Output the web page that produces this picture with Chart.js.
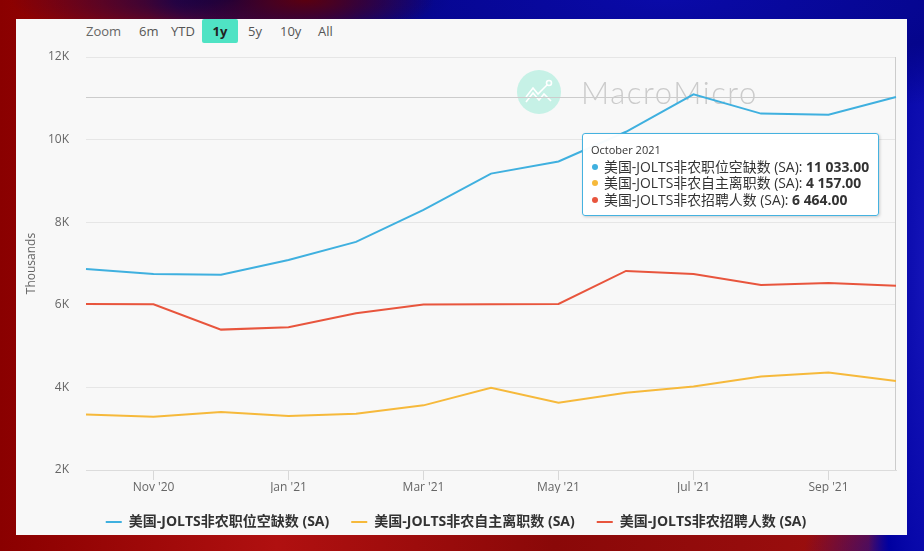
<!DOCTYPE html>
<html>
<head>
<meta charset="utf-8">
<script src="https://cdn.jsdelivr.net/npm/chart.js@4/dist/chart.umd.min.js"></script>
<style>
  body {
    margin: 0;
    width: 924px;
    height: 551px;
    overflow: hidden;
    position: relative;
    font-family: "Open Sans", "Noto Sans CJK SC", sans-serif;
    background:
      radial-gradient(ellipse 130px 40px at 33% 0%, #5a0010 0%, transparent 100%),
      radial-gradient(ellipse 220px 45px at 25% 0%, #000050 0%, transparent 100%),
      radial-gradient(ellipse 520px 120px at 72% 0%, #0a0aa8 0%, #05058c 60%, transparent 100%),
      radial-gradient(ellipse 60px 700px at 100% 50%, #1414b8 0%, #0000a0 70%, transparent 100%),
      radial-gradient(ellipse 120px 60px at 100% 100%, #0a0aa0 0%, transparent 100%),
      linear-gradient(to right, #8a0000, #b01010 30%, #8a0808 60%, #a01010);
  }
  #panel {
    position: absolute; left: 16px; top: 19px; width: 891px; height: 516px;
    background: #f8f8f8;
  }
  #wrap { position: absolute; left: 16px; top: 19px; width: 891px; height: 520px; }
  .rs { position: absolute; font-size: 13px; color: #555; line-height: 24px; top: 19px; }
  .rs.label { color: #666; }
  .rs.on {
    background: #4fe3c4; color: #222; font-weight: bold; border-radius: 2px;
    width: 36px; text-align: center;
  }
  #tip {
    position: absolute; background: rgba(255,255,255,0.96);
    border: 1px solid #45b2e0; border-radius: 3px;
    box-shadow: 1px 1px 3px rgba(0,0,0,0.18);
    padding: 8px 9px 7px 8px; white-space: nowrap; color: #333;
    font-family: "Open Sans", "Noto Sans CJK SC", sans-serif;
    pointer-events: none;
  }
  #tip .tt { font-size: 11px; line-height: 16px; margin-bottom: 1px; }
  #tip .row { font-size: 13.9px; line-height: 16.5px; }
  #tip .dot { display: inline-block; width: 6px; height: 6px; border-radius: 50%; margin: 0 6px 0 1px; vertical-align: 2px; }
</style>
</head>
<body>
<div id="panel"></div>
<span class="rs label" style="left:86px">Zoom</span>
<span class="rs" style="left:139px">6m</span>
<span class="rs" style="left:171px">YTD</span>
<span class="rs on" style="left:202px">1y</span>
<span class="rs" style="left:248px">5y</span>
<span class="rs" style="left:280px">10y</span>
<span class="rs" style="left:318px">All</span>
<div id="wrap">
  <canvas id="chart" width="891" height="520"></canvas>
  <div id="tip" style="opacity:0"></div>
</div>
<script>
const months = ['2020-10', '2020-11', '2020-12', '2021-01', '2021-02', '2021-03', '2021-04',
  '2021-05', '2021-06', '2021-07', '2021-08', '2021-09', '2021-10'];
const openings = [6866, 6745, 6730, 7085, 7523, 8300, 9177, 9470, 10190, 11098, 10629, 10602, 11033];
const quits = [3345, 3290, 3404, 3306, 3362, 3565, 3988, 3630, 3873, 4020, 4263, 4360, 4157];
const hires = [6022, 6012, 5399, 5455, 5796, 6007, 6015, 6020, 6820, 6745, 6477, 6525, 6464];
const seriesNames = ['美国-JOLTS非农职位空缺数 (SA)', '美国-JOLTS非农自主离职数 (SA)', '美国-JOLTS非农招聘人数 (SA)'];
const colors = ['#3fb0df', '#f6b93b', '#e8553d'];
const yTicks = [2000, 4000, 6000, 8000, 10000, 12000];

const shortMonths = ['Jan', 'Feb', 'Mar', 'Apr', 'May', 'Jun', 'Jul', 'Aug', 'Sep', 'Oct', 'Nov', 'Dec'];
const longMonths = ['January', 'February', 'March', 'April', 'May', 'June', 'July', 'August',
  'September', 'October', 'November', 'December'];
const font = '"Open Sans", "Noto Sans CJK SC", sans-serif';

function shortLabel(m) {
  const [y, mo] = m.split('-');
  return shortMonths[+mo - 1] + " '" + y.slice(2);
}
function longLabel(m) {
  const [y, mo] = m.split('-');
  return longMonths[+mo - 1] + ' ' + y;
}
function fmt(v) {
  const [i, d] = v.toFixed(2).split('.');
  return i.replace(/\B(?=(\d{3})+(?!\d))/g, ' ') + '.' + d;
}

function externalTooltip(context) {
  const { tooltip } = context;
  const el = document.getElementById('tip');
  if (tooltip.opacity === 0 || !tooltip.dataPoints || !tooltip.dataPoints.length) {
    el.style.opacity = 0;
    return;
  }
  const idx = tooltip.dataPoints[0].dataIndex;
  let html = '<div class="tt">' + longLabel(months[idx]) + '</div>';
  tooltip.dataPoints.forEach(dp => {
    html += '<div class="row"><span class="dot" style="background:' + dp.dataset.borderColor + '"></span>' +
      dp.dataset.label + ': <b>' + fmt(dp.raw) + '</b></div>';
  });
  el.innerHTML = html;
  el.style.opacity = 1;
  const p = tooltip.dataPoints[0].element;
  el.style.left = (p.x - 17 - el.offsetWidth) + 'px';
  el.style.top = (p.y + 36) + 'px';
}

const overlay = {
  id: 'overlay',
  beforeDatasetsDraw(chart) {
    const { ctx, chartArea: a } = chart;
    ctx.save();
    // watermark
    const cx = a.left + 453, cy = a.top + 35;
    ctx.fillStyle = '#c6f1e6';
    ctx.beginPath();
    ctx.arc(cx, cy, 22, 0, Math.PI * 2);
    ctx.fill();
    ctx.strokeStyle = '#ffffff';
    ctx.lineWidth = 1.6;
    ctx.beginPath();
    ctx.moveTo(cx - 13, cy + 5);
    ctx.lineTo(cx - 6, cy - 4);
    ctx.lineTo(cx - 1, cy + 2);
    ctx.lineTo(cx + 4, cy - 3);
    ctx.lineTo(cx + 8, cy - 7);
    ctx.moveTo(cx - 13, cy + 10);
    ctx.lineTo(cx - 6, cy + 1);
    ctx.lineTo(cx, cy + 8);
    ctx.lineTo(cx + 5, cy + 2);
    ctx.lineTo(cx + 12, cy + 9);
    ctx.stroke();
    ctx.beginPath();
    ctx.arc(cx + 10, cy - 9, 2.5, 0, Math.PI * 2);
    ctx.stroke();
    ctx.fillStyle = '#cbcbcb';
    ctx.font = '300 31px Lato, ' + font;
    ctx.letterSpacing = '1.6px';
    ctx.textBaseline = 'alphabetic';
    ctx.fillText('MacroMicro', cx + 42, cy + 12);
    ctx.letterSpacing = '0px';
    // crosshairs
    const act = chart.tooltip.getActiveElements();
    if (act.length) {
      const p = chart.getDatasetMeta(act[0].datasetIndex).data[act[0].index];
      ctx.strokeStyle = '#cccccc';
      ctx.lineWidth = 1;
      ctx.beginPath();
      ctx.moveTo(Math.round(p.x) - 0.5, a.top);
      ctx.lineTo(Math.round(p.x) - 0.5, a.bottom);
      ctx.moveTo(a.left, Math.round(p.y) + 0.5);
      ctx.lineTo(a.right, Math.round(p.y) + 0.5);
      ctx.stroke();
    }
    ctx.restore();
  }
};

const chart = new Chart(document.getElementById('chart'), {
  type: 'line',
  data: {
    labels: months.map(shortLabel),
    datasets: [openings, quits, hires].map((d, i) => ({
      label: seriesNames[i],
      data: d,
      borderColor: colors[i],
      backgroundColor: colors[i],
      borderWidth: 2,
      pointRadius: 0,
      pointHoverRadius: 0,
      tension: 0,
      fill: false
    }))
  },
  options: {
    responsive: false,
    animation: false,
    layout: { padding: { left: 0, right: 11, top: 38, bottom: 0 } },
    interaction: { mode: 'index', intersect: false },
    scales: {
      x: {
        offset: false,
        afterFit: s => { s.height = 23; },
        afterBuildTicks: s => { s.ticks = s.ticks.filter(t => t.value % 2 === 1); },
        grid: { drawOnChartArea: false, tickLength: 10, tickColor: '#d8d8d8' },
        border: { display: true, color: '#dcdcdc' },
        ticks: {
          autoSkip: false,
          maxRotation: 0,
          padding: 0,
          color: '#666',
          font: { family: font, size: 12 }
        }
      },
      y: {
        min: 2000,
        max: 12000,
        afterFit: s => { s.width = 70; },
        afterBuildTicks: s => { s.ticks = yTicks.map(v => ({ value: v })); },
        grid: { color: '#e6e6e6', drawTicks: false },
        border: { display: false },
        ticks: {
          padding: 17,
          color: '#666',
          font: { family: font, size: 12 },
          callback: v => (v / 1000) + 'K'
        },
        title: {
          display: true,
          text: 'Thousands',
          color: '#666',
          padding: { top: 8, bottom: 0 },
          font: { family: font, size: 12 }
        }
      }
    },
    plugins: {
      legend: {
        position: 'bottom',
        labels: {
          usePointStyle: true,
          pointStyle: 'line',
          pointStyleWidth: 16,
          padding: 22,
          color: '#333',
          font: { family: font, size: 14, weight: 'bold' }
        }
      },
      tooltip: { enabled: false, external: externalTooltip }
    }
  },
  plugins: [overlay]
});

const last = months.length - 1;
chart.tooltip.setActiveElements(
  [0, 1, 2].map(i => ({ datasetIndex: i, index: last })),
  { x: 0, y: 0 }
);
chart.update();
</script>
</body>
</html>
